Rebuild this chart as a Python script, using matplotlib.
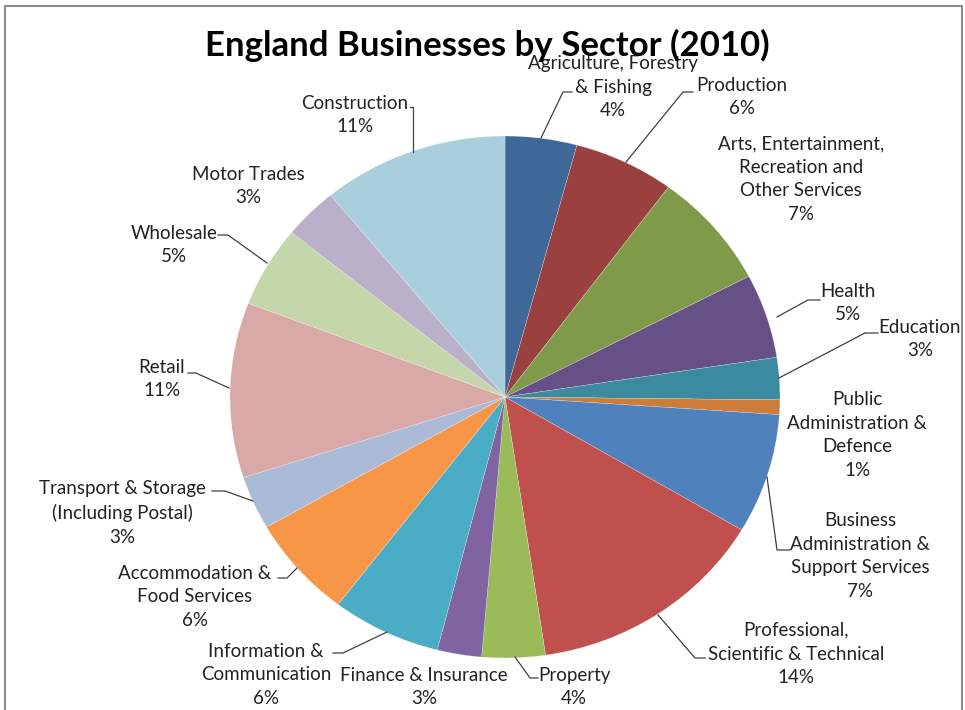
import matplotlib
matplotlib.use('Agg')
import matplotlib.pyplot as plt

# Sector shares (% of businesses), clockwise from 12 o'clock
sectors = [
    "Agriculture, Forestry\n& Fishing",
    "Production",
    "Arts, Entertainment,\nRecreation and\nOther Services",
    "Health",
    "Education",
    "Public\nAdministration &\nDefence",
    "Business\nAdministration &\nSupport Services",
    "Professional,\nScientific & Technical",
    "Property",
    "Finance & Insurance",
    "Information &\nCommunication",
    "Accommodation &\nFood Services",
    "Transport & Storage\n(Including Postal)",
    "Retail",
    "Wholesale",
    "Motor Trades",
    "Construction",
]
shares = [4.2, 5.9, 7.2, 5.2, 2.6, 0.9, 7.4, 14.1, 3.7, 2.6, 6.4, 6.3, 3.3, 10.8, 5.0, 3.2, 10.9]

colors = ['#3F6797', '#9A403E', '#7F9A48', '#675086', '#3A8B9F', '#CD7C3A',
          '#4F81BD', '#C0504D', '#9BBB59', '#8064A2', '#4BACC6', '#F79646',
          '#AABAD7', '#D9A9A8', '#C6D6AB', '#BAB0CA', '#A9CEDC']

# label block centres and leader lines, in pixel coords of the 965x710 canvas
label_pos = [(613, 87), (742, 97), (801, 179), (848, 303), (920, 339), (857, 435),
             (860, 556), (796, 654), (574, 687), (424, 687), (266, 675), (195, 597),
             (122, 513), (162, 379), (174, 245), (248, 186), (355, 115)]
leaders = {
    0: [(541, 138), (563, 92), (572, 92)],
    1: [(626, 162), (683, 92), (693, 92)],
    3: [(777, 317), (808, 300), (820, 300)],
    4: [(779, 378), (865, 333), (878, 333)],
    6: [(767, 477), (777, 550), (790, 550)],
    7: [(658, 615), (695, 658), (705, 658)],
    8: [(515, 657), (530, 678), (538, 678)],
    10: [(387, 632), (343, 653), (333, 653)],
    11: [(297, 568), (287, 578), (278, 578)],
    12: [(253, 501), (225, 491), (212, 491)],
    13: [(229, 388), (196, 373), (188, 373)],
    14: [(267, 263), (228, 235), (218, 235)],
    16: [(413, 152), (413, 107), (410, 107)],
}

W, H = 965, 710
fig = plt.figure(figsize=(W / 100, H / 100), dpi=100)
fig.patch.set_facecolor('white')

# pie axes spans the (slightly squashed) pie bounding box
px0, px1, py0, py1 = 230, 780, 136, 658
ax_pie = fig.add_axes([px0 / W, 1 - py1 / H, (px1 - px0) / W, (py1 - py0) / H])
ax_pie.pie(shares, colors=colors, startangle=90, counterclock=False, radius=1,
           wedgeprops={'edgecolor': 'white', 'linewidth': 0.15})
ax_pie.set_aspect('auto')
ax_pie.set_xlim(-1, 1)
ax_pie.set_ylim(-1, 1)
ax_pie.axis('off')

# overlay in pixel coordinates for labels, leaders, title and frame
ax = fig.add_axes([0, 0, 1, 1], zorder=3)
ax.set_xlim(0, W)
ax.set_ylim(H, 0)
ax.axis('off')
ax.patch.set_alpha(0)

total = sum(shares)
font = ['Lato', 'DejaVu Sans']
for i, (name, val) in enumerate(zip(sectors, shares)):
    x, y = label_pos[i]
    ax.text(x, y, f"{name}\n{round(val / total * 100)}%", ha='center', va='center',
            fontsize=13.5, family=font, color='#222222', linespacing=1.48)
    if i in leaders:
        xs, ys = zip(*leaders[i])
        ax.plot(xs, ys, color='#404040', lw=0.9)

ax.text(487, 45, "England Businesses by Sector (2010)", ha='center', va='center',
        fontsize=25, fontweight='bold', family=font, color='black')

# chart frame (bottom edge is cropped off in the original)
ax.plot([5, 5, 962, 962], [H, 6, 6, H], color='#8c8c8c', lw=1.5)

fig.savefig('out.png', dpi=100)
plt.close(fig)
